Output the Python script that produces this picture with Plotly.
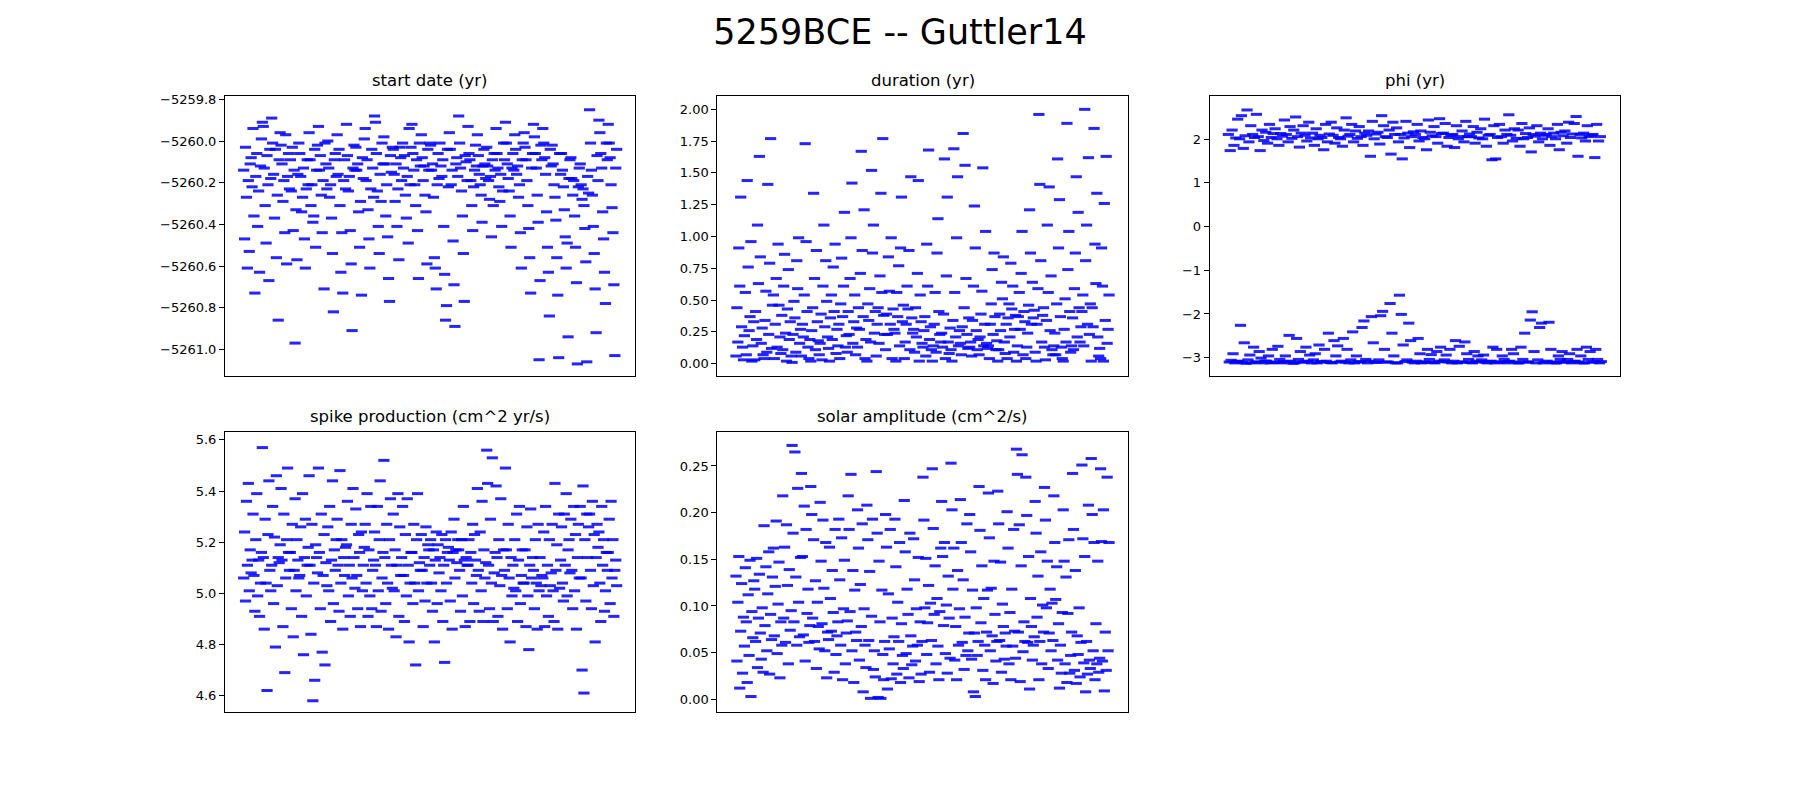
import plotly.graph_objects as go
from plotly.subplots import make_subplots

# MCMC chain traces (step order, left to right)
start_date = [
    -5260.14, -5260.47, -5260.03, -5260.27, -5260.61, -5260.19, -5260.53, -5260.11, -5260.08, -5260.22,
    -5259.94, -5260.36, -5260.73, -5260.17, -5260.06, -5260.41, -5260.24, -5260.63, -5260.12, -5259.99,
    -5259.91, -5259.93, -5260.13, -5260.31, -5260.49, -5260.07, -5260.21, -5260.67, -5260.04, -5260.18,
    -5259.89, -5260.01, -5260.16, -5260.37, -5260.04, -5260.56, -5260.26, -5260.86, -5260.09, -5259.96,
    -5260.02, -5260.11, -5260.29, -5260.19, -5260.44, -5259.97, -5260.59, -5260.17, -5260.06, -5260.23,
    -5260.09, -5260.24, -5260.03, -5260.43, -5260.14, -5260.97, -5260.33, -5260.57, -5260.16, -5260.01,
    -5260.06, -5260.17, -5260.34, -5260.27, -5260.13, -5260.47, -5260.61, -5260.23, -5260.09, -5260.21,
    -5259.96, -5260.09, -5260.31, -5260.21, -5260.39, -5260.36, -5260.04, -5260.51, -5260.14, -5260.02,
    -5259.93, -5260.14, -5260.07, -5260.26, -5260.44, -5260.19, -5260.71, -5260.01, -5260.11, -5260.23,
    -5260.00, -5260.13, -5260.27, -5260.21, -5260.37, -5260.54, -5260.82, -5260.09, -5260.06, -5260.17,
    -5259.97, -5260.16, -5260.04, -5260.31, -5260.63, -5260.44, -5260.73, -5260.19, -5260.09, -5260.23,
    -5259.92, -5260.07, -5260.24, -5260.17, -5260.43, -5260.59, -5260.91, -5260.13, -5260.02, -5260.14,
    -5260.03, -5260.14, -5260.11, -5260.34, -5260.51, -5260.29, -5260.74, -5260.08, -5260.18, -5259.99,
    -5259.94, -5260.19, -5260.09, -5260.33, -5260.47, -5260.61, -5260.23, -5260.04, -5260.13, -5260.27,
    -5259.88, -5259.91, -5260.06, -5260.24, -5260.41, -5260.54, -5260.16, -5260.29, -5260.01, -5260.11,
    -5259.98, -5260.11, -5260.36, -5260.21, -5260.46, -5260.66, -5260.77, -5260.07, -5260.15, -5260.03,
    -5260.04, -5260.16, -5260.29, -5260.11, -5260.41, -5260.23, -5260.57, -5260.03, -5260.08, -5260.19,
    -5260.01, -5260.13, -5260.07, -5260.26, -5260.37, -5260.17, -5260.49, -5259.94, -5260.21, -5260.03,
    -5259.92, -5260.06, -5260.14, -5260.21, -5260.31, -5260.09, -5260.43, -5260.66, -5260.01, -5260.12,
    -5259.97, -5260.08, -5260.19, -5260.12, -5260.26, -5260.34, -5260.59, -5260.04, -5260.14, -5260.01,
    -5260.02, -5260.14, -5260.11, -5260.27, -5260.56, -5260.61, -5260.71, -5260.21, -5260.06, -5260.18,
    -5260.01, -5260.12, -5260.17, -5260.09, -5260.41, -5260.64, -5260.86, -5260.79, -5260.04, -5260.22,
    -5259.96, -5260.04, -5260.21, -5260.14, -5260.48, -5260.69, -5260.89, -5260.11, -5260.08, -5260.17,
    -5259.88, -5260.01, -5260.13, -5260.24, -5260.36, -5260.54, -5260.77, -5260.07, -5260.10, -5260.19,
    -5259.93, -5260.06, -5260.09, -5260.19, -5260.31, -5260.43, -5260.22, -5260.14, -5260.02, -5260.12,
    -5259.97, -5260.07, -5260.16, -5260.21, -5260.26, -5260.39, -5260.12, -5260.04, -5260.11, -5260.18,
    -5260.03, -5260.12, -5260.19, -5260.28, -5260.17, -5260.46, -5260.09, -5260.31, -5260.06, -5260.14,
    -5259.94, -5260.06, -5260.13, -5260.22, -5260.29, -5260.16, -5260.41, -5260.24, -5260.01, -5260.09,
    -5259.91, -5260.01, -5260.11, -5260.18, -5260.24, -5260.36, -5260.51, -5260.13, -5260.06, -5260.14,
    -5259.97, -5260.04, -5260.16, -5260.12, -5260.27, -5260.21, -5260.44, -5260.61, -5260.09, -5260.01,
    -5259.96, -5260.03, -5260.09, -5260.19, -5260.31, -5260.42, -5260.56, -5260.73, -5260.13, -5260.06,
    -5259.92, -5259.98, -5260.06, -5260.13, -5260.26, -5260.39, -5261.05, -5260.67, -5260.02, -5260.09,
    -5259.94, -5260.01, -5260.08, -5260.16, -5260.34, -5260.51, -5260.63, -5260.84, -5260.04, -5260.12,
    -5260.02, -5260.11, -5260.21, -5260.27, -5260.38, -5260.56, -5260.74, -5261.04, -5260.06, -5260.16,
    -5260.06, -5260.14, -5260.22, -5260.33, -5260.46, -5260.61, -5260.49, -5260.94, -5260.18, -5260.09,
    -5260.08, -5260.18, -5260.26, -5260.19, -5260.36, -5260.51, -5260.68, -5261.07, -5260.22, -5260.13,
    -5260.11, -5260.21, -5260.28, -5260.23, -5260.31, -5260.42, -5260.58, -5261.06, -5260.17, -5260.25,
    -5259.85, -5260.01, -5260.14, -5260.26, -5260.41, -5260.54, -5260.71, -5260.92, -5260.07, -5260.19,
    -5259.90, -5259.96, -5260.06, -5260.13, -5260.34, -5260.47, -5260.63, -5260.78, -5260.01, -5260.09,
    -5259.92, -5260.01, -5260.08, -5260.21, -5260.32, -5260.44, -5260.69, -5261.03, -5260.13, -5260.04,
]

duration = [
    0.06, 0.44, 0.17, 0.91, 0.61, 1.31, 0.29, 0.13, 0.03, 0.22,
    0.56, 0.07, 1.44, 0.76, 0.26, 0.37, 0.96, 0.02, 0.14, 0.33,
    0.03, 0.41, 0.19, 1.09, 0.63, 1.63, 0.84, 0.16, 0.28, 0.07,
    0.04, 0.34, 0.57, 0.09, 1.41, 0.23, 0.79, 1.77, 0.12, 0.46,
    0.54, 0.04, 0.31, 0.67, 0.13, 0.94, 0.46, 0.21, 0.08, 0.38,
    0.11, 0.61, 0.86, 0.24, 0.02, 0.43, 0.74, 0.19, 0.33, 0.06,
    0.01, 0.23, 0.49, 0.36, 0.09, 0.81, 0.59, 0.99, 0.16, 0.27,
    0.06, 0.31, 0.21, 0.54, 1.73, 0.96, 0.41, 0.13, 0.04, 0.19,
    0.02, 0.26, 0.44, 1.34, 0.67, 0.11, 0.89, 0.33, 0.18, 0.07,
    0.16, 0.39, 0.03, 0.61, 1.09, 0.29, 0.81, 0.49, 0.21, 0.12,
    0.02, 0.36, 0.54, 0.19, 0.76, 0.41, 0.94, 0.08, 0.27, 0.14,
    0.31, 0.04, 0.47, 0.83, 0.37, 0.61, 1.19, 0.13, 0.22, 0.09,
    0.41, 0.23, 0.67, 0.99, 1.42, 0.16, 0.33, 0.54, 0.07, 0.28,
    0.13, 0.44, 0.27, 0.71, 1.67, 0.89, 0.37, 1.21, 0.04, 0.19,
    0.02, 0.47, 0.34, 0.59, 0.17, 1.52, 0.87, 1.09, 0.24, 0.41,
    0.06, 0.31, 0.44, 0.16, 0.69, 1.34, 0.56, 1.77, 0.38, 0.23,
    0.11, 0.39, 0.23, 0.84, 0.57, 0.31, 0.99, 0.04, 0.43, 0.27,
    0.24, 0.02, 0.56, 0.37, 0.77, 0.14, 0.91, 1.31, 0.33, 0.46,
    0.04, 0.17, 0.31, 0.61, 0.43, 0.89, 0.11, 1.47, 0.36, 0.24,
    0.27, 0.09, 0.44, 0.21, 0.71, 1.44, 0.02, 0.54, 0.33, 0.16,
    0.13, 0.26, 0.37, 0.06, 0.94, 0.61, 1.68, 0.19, 0.29, 0.11,
    0.02, 0.14, 0.31, 0.56, 0.09, 0.87, 1.14, 0.41, 0.23, 0.17,
    0.24, 0.13, 0.39, 1.61, 0.04, 0.69, 1.31, 0.17, 0.08, 0.28,
    0.11, 0.02, 0.34, 1.69, 0.56, 0.21, 0.99, 1.47, 0.14, 0.26,
    0.16, 0.07, 0.29, 1.81, 0.44, 1.56, 0.67, 0.23, 0.12, 0.36,
    0.13, 0.17, 0.06, 0.34, 0.61, 1.24, 0.91, 0.26, 0.11, 0.19,
    0.07, 0.21, 0.39, 0.57, 1.54, 0.14, 0.31, 1.04, 0.16, 0.12,
    0.14, 0.04, 0.31, 0.47, 0.74, 0.23, 0.87, 0.37, 0.11, 0.18,
    0.02, 0.11, 0.39, 0.26, 0.64, 0.51, 0.84, 0.17, 0.08, 0.31,
    0.04, 0.36, 0.47, 0.21, 0.79, 0.43, 0.61, 0.09, 0.27, 0.38,
    0.02, 0.14, 0.37, 0.56, 0.27, 0.71, 1.04, 0.07, 0.41, 0.33,
    0.04, 0.13, 0.24, 0.46, 1.21, 0.87, 0.31, 0.64, 0.36, 0.42,
    0.09, 0.02, 0.31, 0.59, 1.96, 1.41, 0.81, 0.17, 0.38, 0.44,
    0.13, 0.03, 0.34, 1.09, 0.56, 1.39, 0.26, 0.69, 0.11, 0.07,
    0.14, 0.24, 0.07, 0.47, 1.61, 0.91, 1.29, 0.37, 0.13, 0.04,
    0.02, 0.27, 0.51, 0.17, 1.89, 0.74, 1.04, 0.41, 0.09, 0.14,
    0.36, 0.11, 0.59, 0.87, 1.47, 0.21, 1.19, 0.44, 0.17, 0.29,
    0.41, 0.54, 0.14, 2.00, 0.81, 1.09, 0.31, 1.62, 0.23, 0.47,
    0.02, 0.44, 0.29, 1.85, 0.94, 0.63, 1.34, 0.21, 0.06, 0.12,
    0.04, 0.91, 0.61, 0.02, 1.26, 0.34, 1.63, 0.16, 0.27, 0.54,
]

phi = [
    2.11, -3.10, 1.74, -3.06, 2.21, -2.91, 1.86, -3.12, 2.03, -3.09,
    2.46, -3.08, 2.01, -2.26, 2.54, -3.11, 1.79, -2.66, 2.08, -3.13,
    2.67, -3.05, 1.94, -2.94, 2.31, -3.12, 2.11, -2.76, 2.04, -3.10,
    2.57, -3.10, 2.06, -2.86, 1.74, -3.01, 2.21, -3.12, 1.97, -3.08,
    2.16, -3.08, 1.91, -2.96, 2.34, -3.12, 2.04, -2.81, 2.13, -3.11,
    2.24, -3.10, 2.01, -2.74, 1.86, -3.04, 2.13, -3.12, 2.07, -3.09,
    2.44, -2.96, 2.11, -3.10, 1.94, -2.49, 2.29, -3.08, 2.02, -3.13,
    2.21, -3.12, 2.51, -2.56, 2.06, -3.04, 1.82, -2.86, 2.14, -3.10,
    2.31, -3.10, 2.09, -2.76, 1.96, -3.08, 2.39, -2.94, 2.03, -3.12,
    2.14, -3.05, 1.86, -2.91, 2.24, -3.12, 2.01, -2.71, 2.09, -3.09,
    2.04, -3.10, 1.76, -2.81, 2.34, -3.08, 1.94, -2.44, 2.12, -3.11,
    2.39, -3.12, 2.09, -2.61, 1.91, -2.96, 2.26, -2.73, 2.04, -3.10,
    2.01, -3.08, 1.84, -2.56, 2.21, -3.10, 2.49, -2.81, 2.07, -3.12,
    2.11, -3.05, 2.34, -2.41, 1.94, -3.12, 2.19, -2.96, 2.02, -3.09,
    2.29, -3.10, 2.06, -2.31, 1.86, -2.16, 2.14, -3.04, 2.09, -3.12,
    2.19, -3.08, 1.61, -2.06, 2.41, -2.66, 2.01, -3.10, 2.12, -3.11,
    2.16, -3.05, 1.89, -2.04, 2.54, -1.94, 2.31, -2.81, 2.06, -3.10,
    2.04, -3.10, 2.21, -1.76, 1.66, -2.44, 2.39, -2.96, 2.11, -3.12,
    2.26, -3.12, 1.94, -1.57, 2.11, -2.01, 1.55, -2.71, 2.03, -3.09,
    2.41, -3.05, 2.14, -2.21, 1.81, -2.61, 2.06, -3.10, 2.17, -3.12,
    2.11, -3.08, 2.34, -2.56, 1.96, -2.91, 2.19, -3.12, 2.04, -3.10,
    2.01, -3.10, 1.76, -2.81, 2.44, -3.04, 2.16, -2.93, 2.08, -3.11,
    2.29, -3.12, 2.06, -2.86, 1.91, -3.08, 2.47, -2.76, 2.13, -3.09,
    2.14, -3.05, 2.36, -2.94, 1.84, -3.10, 2.04, -2.81, 2.09, -3.12,
    2.11, -3.08, 1.81, -2.61, 2.31, -3.12, 2.01, -2.74, 2.06, -3.10,
    2.19, -3.10, 1.94, -2.64, 2.41, -2.91, 2.06, -3.04, 2.12, -3.11,
    2.06, -3.12, 2.29, -2.86, 1.91, -3.08, 2.16, -2.96, 2.03, -3.10,
    2.24, -3.05, 2.01, -2.94, 2.46, -3.10, 1.84, -3.12, 2.09, -3.09,
    2.11, -3.08, 1.53, -2.76, 2.31, -3.12, 1.55, -2.81, 2.04, -3.10,
    2.34, -3.10, 2.06, -2.96, 1.91, -3.04, 2.21, -3.12, 2.11, -3.09,
    2.56, -3.08, 2.09, -2.81, 1.96, -2.91, 2.24, -3.10, 2.02, -3.12,
    2.21, -3.12, 1.84, -2.76, 2.36, -3.04, 2.01, -2.44, 2.13, -3.10,
    2.04, -3.10, 2.26, -2.14, 1.71, -1.95, 2.11, -2.86, 2.07, -3.12,
    2.31, -3.05, 1.94, -2.31, 2.14, -2.21, 2.01, -3.12, 2.09, -3.10,
    2.11, -3.08, 2.24, -2.19, 1.86, -2.81, 2.06, -3.10, 2.14, -3.12,
    2.01, -3.12, 2.34, -2.96, 1.76, -3.04, 2.16, -2.86, 2.08, -3.10,
    2.19, -3.10, 1.91, -3.04, 2.39, -2.91, 2.04, -3.12, 2.12, -3.09,
    2.36, -3.08, 2.52, -2.81, 1.61, -3.10, 2.11, -2.96, 2.03, -3.12,
    2.14, -3.12, 1.96, -2.76, 2.31, -3.04, 2.06, -2.86, 2.09, -3.10,
    2.11, -3.10, 1.58, -2.81, 2.34, -3.04, 1.96, -3.12, 2.06, -3.09,
]

spike_production = [
    5.06, 5.24, 4.97, 5.36, 5.11, 5.43, 5.01, 5.17, 5.08, 5.13,
    5.31, 5.07, 4.93, 5.21, 5.39, 4.99, 5.13, 4.91, 5.04, 5.16,
    5.57, 5.14, 4.86, 5.29, 5.04, 4.62, 5.23, 5.44, 5.09, 5.01,
    5.11, 5.34, 4.96, 5.22, 4.79, 5.46, 5.03, 5.14, 5.12, 5.19,
    5.41, 5.13, 4.87, 5.31, 4.69, 5.06, 5.21, 5.49, 5.16, 5.09,
    5.16, 4.94, 5.27, 4.83, 5.09, 5.37, 5.01, 5.21, 5.13, 5.06,
    5.07, 5.26, 4.91, 5.39, 4.76, 5.14, 5.29, 4.99, 5.11, 5.18,
    5.46, 5.11, 4.84, 5.27, 4.58, 5.04, 4.66, 5.19, 5.14, 5.08,
    5.49, 5.16, 4.94, 5.31, 4.77, 5.07, 5.23, 4.72, 5.12, 5.03,
    5.26, 5.01, 5.34, 4.89, 5.13, 5.44, 4.96, 5.17, 5.09, 5.21,
    5.29, 5.11, 4.93, 5.48, 5.04, 5.21, 4.86, 5.14, 5.07, 5.18,
    5.19, 5.36, 4.99, 5.11, 4.91, 5.27, 5.06, 5.41, 5.14, 5.02,
    5.33, 5.07, 4.94, 5.23, 5.16, 4.87, 5.24, 5.01, 5.11, 5.18,
    5.27, 5.04, 5.39, 4.91, 5.17, 4.99, 5.34, 4.94, 5.09, 5.13,
    5.24, 5.11, 4.87, 5.34, 5.01, 5.21, 5.44, 4.93, 5.06, 5.16,
    5.52, 5.14, 4.96, 5.27, 5.04, 4.86, 5.21, 5.37, 5.11, 5.02,
    5.31, 5.01, 5.17, 4.83, 5.11, 5.39, 4.91, 5.26, 5.07, 5.14,
    5.34, 5.07, 4.89, 5.23, 4.99, 5.37, 5.11, 4.81, 5.04, 5.16,
    5.16, 4.96, 5.27, 5.04, 4.72, 5.21, 5.39, 5.01, 5.12, 5.09,
    5.23, 5.09, 4.87, 5.14, 4.97, 5.26, 5.04, 5.19, 5.17, 5.11,
    5.21, 5.04, 4.93, 5.17, 4.81, 5.13, 5.24, 4.96, 5.19, 5.08,
    5.14, 5.01, 5.23, 4.89, 5.11, 4.73, 5.21, 5.04, 5.16, 5.18,
    5.13, 4.97, 5.24, 4.86, 5.16, 5.29, 5.06, 5.17, 5.12, 5.21,
    5.17, 5.09, 4.93, 5.21, 4.99, 5.34, 5.13, 4.87, 5.14, 5.11,
    5.11, 5.21, 4.89, 5.16, 5.04, 5.27, 4.96, 5.23, 5.13, 5.07,
    5.41, 5.09, 4.93, 5.24, 5.01, 5.36, 4.89, 5.17, 5.06, 5.12,
    5.56, 5.43, 5.11, 4.94, 5.29, 5.04, 5.53, 4.89, 5.08, 5.16,
    5.42, 5.14, 4.91, 5.21, 5.03, 5.37, 5.07, 4.86, 5.17, 5.09,
    5.49, 5.17, 4.94, 5.27, 5.06, 4.81, 5.14, 4.99, 5.11, 5.02,
    5.21, 5.01, 5.31, 4.89, 5.13, 5.34, 4.96, 5.07, 5.17, 5.04,
    5.04, 5.17, 4.87, 5.26, 4.99, 4.78, 5.11, 5.33, 5.06, 5.14,
    5.09, 4.94, 5.21, 5.04, 4.86, 5.27, 5.01, 5.14, 5.03, 5.07,
    5.06, 5.24, 4.87, 5.34, 4.99, 5.11, 4.91, 5.21, 5.03, 5.08,
    5.27, 5.01, 4.89, 5.43, 5.09, 5.19, 4.86, 5.31, 5.02, 5.13,
    5.26, 5.04, 4.97, 5.31, 5.11, 5.39, 4.99, 5.17, 5.21, 5.08,
    5.29, 5.09, 4.94, 5.34, 5.01, 5.23, 4.86, 5.14, 5.27, 5.06,
    5.34, 5.06, 4.70, 5.42, 4.61, 5.21, 4.97, 5.31, 5.14, 5.26,
    5.31, 5.09, 4.94, 5.36, 5.03, 5.23, 4.81, 5.14, 5.27, 5.18,
    5.24, 5.04, 4.89, 5.34, 5.11, 5.21, 4.93, 5.01, 5.16, 5.09,
    5.16, 5.29, 4.96, 5.36, 5.06, 5.21, 4.91, 5.09, 5.13, 5.03,
]

solar_amplitude = [
    0.132, 0.041, 0.104, 0.153, 0.012, 0.073, 0.124, 0.028, 0.088, 0.057,
    0.141, 0.083, 0.018, 0.112, 0.047, 0.149, 0.003, 0.094, 0.066, 0.127,
    0.118, 0.062, 0.151, 0.034, 0.087, 0.134, 0.071, 0.043, 0.098, 0.029,
    0.186, 0.079, 0.142, 0.052, 0.113, 0.158, 0.027, 0.091, 0.064, 0.131,
    0.162, 0.068, 0.121, 0.191, 0.049, 0.102, 0.147, 0.023, 0.083, 0.058,
    0.218, 0.087, 0.163, 0.061, 0.187, 0.122, 0.038, 0.139, 0.074, 0.095,
    0.272, 0.178, 0.083, 0.265, 0.131, 0.058, 0.226, 0.104, 0.067, 0.152,
    0.242, 0.153, 0.069, 0.207, 0.041, 0.182, 0.092, 0.118, 0.061, 0.079,
    0.228, 0.198, 0.087, 0.171, 0.062, 0.127, 0.033, 0.104, 0.078, 0.054,
    0.211, 0.148, 0.081, 0.192, 0.119, 0.052, 0.168, 0.023, 0.072, 0.064,
    0.163, 0.108, 0.073, 0.138, 0.093, 0.029, 0.182, 0.048, 0.068, 0.083,
    0.193, 0.128, 0.058, 0.173, 0.021, 0.097, 0.149, 0.038, 0.071, 0.084,
    0.218, 0.182, 0.094, 0.241, 0.052, 0.138, 0.018, 0.117, 0.072, 0.063,
    0.203, 0.162, 0.042, 0.123, 0.078, 0.188, 0.008, 0.097, 0.058, 0.034,
    0.208, 0.171, 0.063, 0.137, 0.001, 0.089, 0.193, 0.032, 0.052, 0.024,
    0.244, 0.178, 0.002, 0.148, 0.083, 0.001, 0.117, 0.048, 0.021, 0.062,
    0.198, 0.163, 0.011, 0.113, 0.054, 0.182, 0.022, 0.087, 0.038, 0.067,
    0.193, 0.142, 0.027, 0.104, 0.062, 0.168, 0.018, 0.081, 0.047, 0.033,
    0.213, 0.158, 0.049, 0.118, 0.091, 0.023, 0.178, 0.068, 0.037, 0.057,
    0.172, 0.128, 0.041, 0.097, 0.058, 0.152, 0.019, 0.083, 0.027, 0.062,
    0.238, 0.192, 0.098, 0.151, 0.048, 0.082, 0.122, 0.029, 0.103, 0.063,
    0.247, 0.183, 0.091, 0.143, 0.038, 0.108, 0.057, 0.021, 0.094, 0.162,
    0.212, 0.153, 0.079, 0.168, 0.049, 0.101, 0.028, 0.132, 0.087, 0.044,
    0.253, 0.203, 0.118, 0.162, 0.042, 0.078, 0.021, 0.138, 0.058, 0.097,
    0.214, 0.168, 0.061, 0.128, 0.032, 0.088, 0.047, 0.188, 0.052, 0.071,
    0.198, 0.158, 0.043, 0.117, 0.008, 0.071, 0.003, 0.098, 0.047, 0.062,
    0.228, 0.181, 0.082, 0.143, 0.031, 0.108, 0.058, 0.021, 0.072, 0.117,
    0.221, 0.173, 0.052, 0.119, 0.068, 0.017, 0.148, 0.091, 0.041, 0.062,
    0.223, 0.188, 0.063, 0.147, 0.029, 0.102, 0.078, 0.043, 0.071, 0.057,
    0.201, 0.162, 0.038, 0.093, 0.021, 0.118, 0.057, 0.182, 0.073, 0.044,
    0.268, 0.241, 0.072, 0.187, 0.019, 0.143, 0.262, 0.051, 0.083, 0.062,
    0.238, 0.197, 0.061, 0.153, 0.011, 0.108, 0.078, 0.042, 0.058, 0.067,
    0.212, 0.178, 0.088, 0.132, 0.021, 0.062, 0.158, 0.038, 0.101, 0.072,
    0.227, 0.192, 0.098, 0.148, 0.033, 0.071, 0.118, 0.052, 0.103, 0.063,
    0.218, 0.168, 0.107, 0.142, 0.042, 0.081, 0.012, 0.058, 0.028, 0.093,
    0.203, 0.148, 0.038, 0.131, 0.018, 0.092, 0.171, 0.028, 0.047, 0.072,
    0.242, 0.182, 0.031, 0.138, 0.017, 0.068, 0.048, 0.098, 0.024, 0.061,
    0.251, 0.172, 0.039, 0.153, 0.008, 0.062, 0.027, 0.208, 0.042, 0.033,
    0.258, 0.198, 0.052, 0.168, 0.021, 0.081, 0.038, 0.148, 0.029, 0.044,
    0.247, 0.169, 0.041, 0.203, 0.009, 0.072, 0.031, 0.238, 0.052, 0.168,
]

titles = ['start date (yr)', 'duration (yr)', 'phi (yr)',
          'spike production (cm^2 yr/s)', 'solar amplitude (cm^2/s)']
series = [start_date, duration, phi, spike_production, solar_amplitude]

# y ranges / ticks as shown in the reference axes
yranges = [[-5261.128, -5259.784], [-0.097, 2.105], [-3.42, 2.99],
           [4.536, 5.631], [-0.0136, 0.2864]]
ytickvals = [[-5261.0, -5260.8, -5260.6, -5260.4, -5260.2, -5260.0, -5259.8],
             [0, 0.25, 0.5, 0.75, 1.0, 1.25, 1.5, 1.75, 2.0],
             [-3, -2, -1, 0, 1, 2],
             [4.6, 4.8, 5.0, 5.2, 5.4, 5.6],
             [0, 0.05, 0.1, 0.15, 0.2, 0.25]]
yfmt = ['.1f', '.2f', 'd', '.1f', '.2f']

font = 'DejaVu Sans'
fig = make_subplots(rows=2, cols=3,
                    specs=[[{}, {}, {}], [{}, {}, None]],
                    horizontal_spacing=0.0588, vertical_spacing=0.0909,
                    subplot_titles=titles)

cells = [(1, 1), (1, 2), (1, 3), (2, 1), (2, 2)]
for i, (vals, (r, c)) in enumerate(zip(series, cells)):
    n = len(vals)
    # short horizontal dashes, like repeated chain steps in the original
    fig.add_trace(go.Scatter(x=list(range(n)), y=vals, mode='markers',
                             marker=dict(symbol='line-ew', size=8,
                                         line=dict(color='#0000ff', width=3),
                                         color='#0000ff', opacity=0.85),
                             showlegend=False, hoverinfo='y'),
                  row=r, col=c)
    fig.update_xaxes(range=[-0.05 * (n - 1), 1.05 * (n - 1)],
                     showticklabels=False, ticks='', showgrid=False,
                     zeroline=False, showline=True, linecolor='black',
                     linewidth=1, mirror=True, row=r, col=c)
    fig.update_yaxes(range=yranges[i], tickvals=ytickvals[i],
                     tickformat=yfmt[i], ticks='outside', ticklen=5,
                     tickwidth=1, tickcolor='black', showgrid=False,
                     zeroline=False, showline=True, linecolor='black',
                     linewidth=1, mirror=True,
                     tickfont=dict(family=font, size=13, color='black'),
                     row=r, col=c)

fig.update_annotations(font=dict(family=font, size=16.5, color='black'),
                       yshift=4)

fig.update_layout(
    width=1800, height=800,
    margin=dict(l=225, r=180, t=96, b=88),
    paper_bgcolor='white', plot_bgcolor='white',
    font=dict(family=font, color='black'),
    title=dict(text='5259BCE -- Guttler14', x=0.5, xanchor='center',
               y=1 - 32 / 800, yanchor='middle', yref='container',
               font=dict(family=font, size=35, color='black')),
)

# drop the default page margin so the figure sits at the window origin
fig.write_html('out.html', config={'displayModeBar': False},
               post_script="document.body.style.margin='0';")
